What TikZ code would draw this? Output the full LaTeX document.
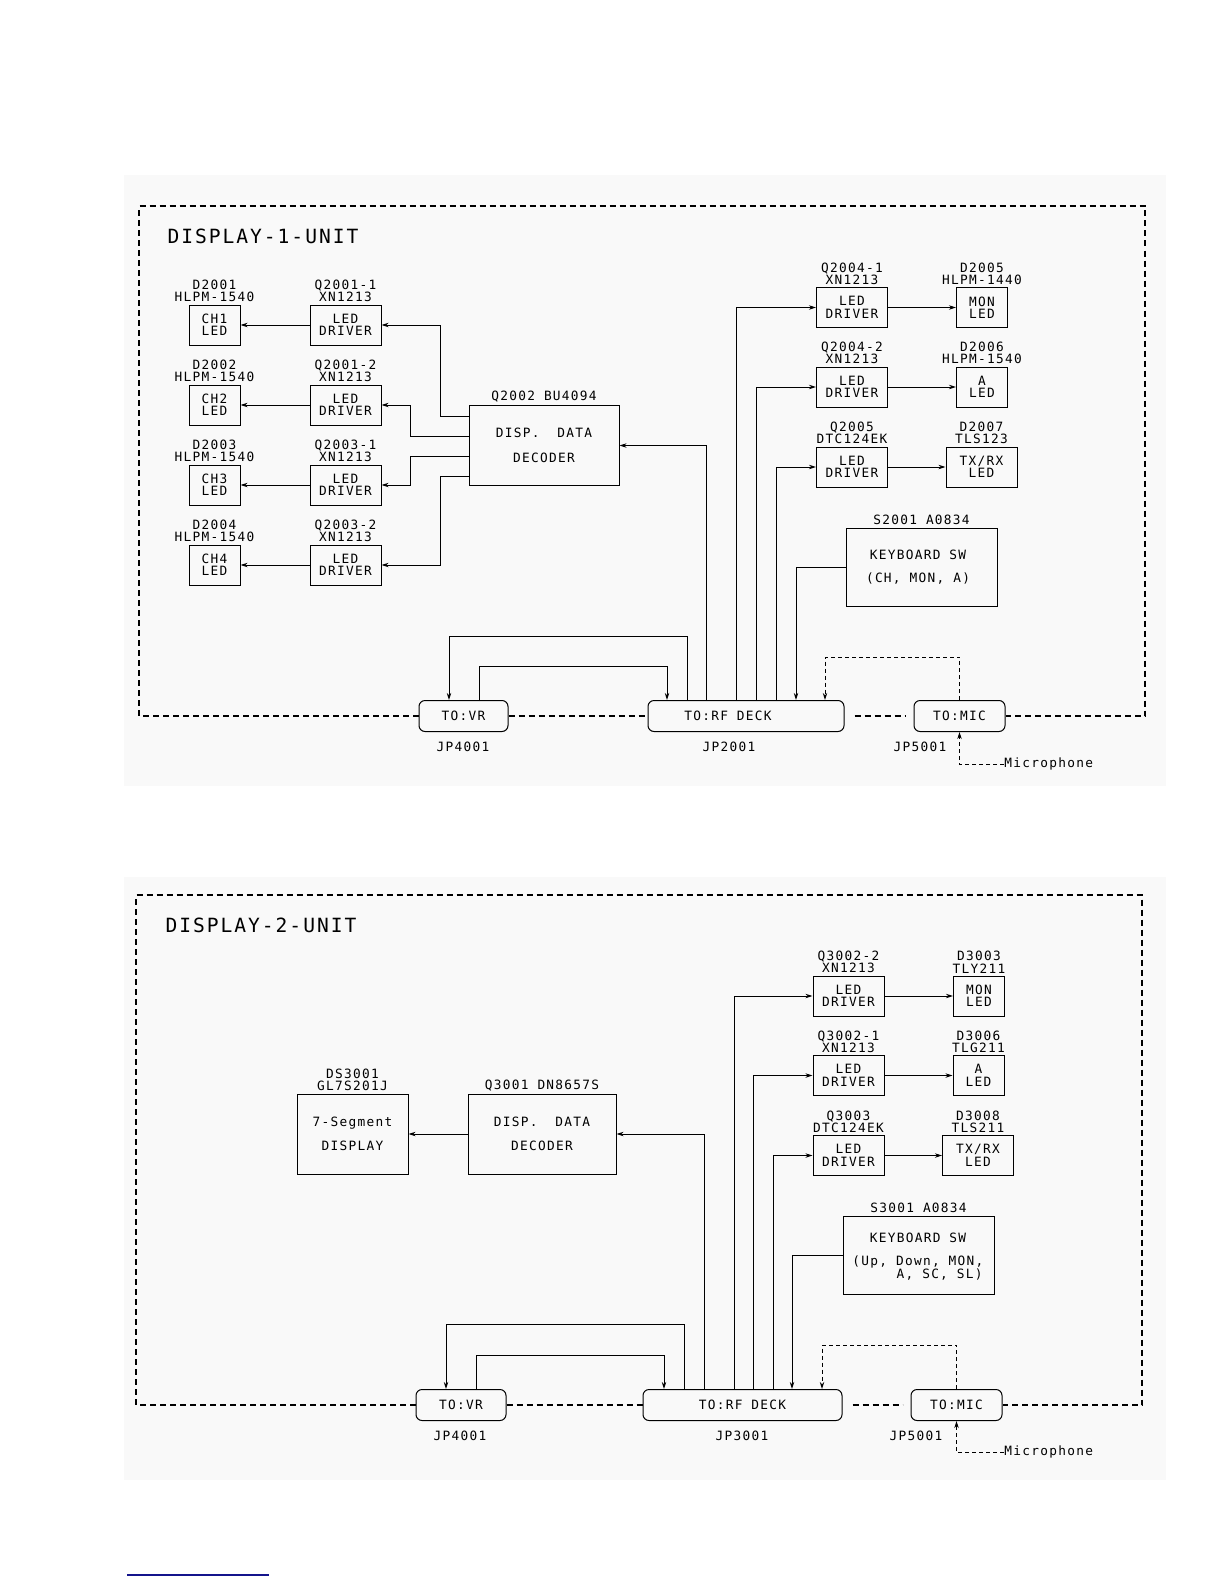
\documentclass[tikz,border=0pt]{standalone}
\usepackage{fontspec}
\usetikzlibrary{arrows.meta}
\newfontfamily\plotfont[LetterSpace=10]{DejaVu Sans Mono}
\newcommand{\txtfont}{\plotfont\fontsize{6.4}{6.2}\selectfont}
\newcommand{\ttlfont}{\plotfont\fontsize{9.8}{11}\selectfont}
\definecolor{scan}{gray}{0.975}
\definecolor{rulecol}{RGB}{20,20,140}
\begin{document}
\begin{tikzpicture}[x=0.5pt,y=-0.5pt,
  >={Stealth[length=3.5pt,width=2.2pt]},
  box/.style={draw,line width=0.5pt,inner sep=0pt,align=center,font=\txtfont,minimum height=20pt},
  led/.style={box,minimum width=25.5pt},
  drv/.style={box,minimum width=35.5pt},
  dec/.style={box,minimum width=75pt,minimum height=40pt},
  kbd/.style={box,minimum width=75.5pt,minimum height=39pt},
  jack/.style={draw,line width=0.5pt,rounded corners=3pt,inner sep=0pt,font=\txtfont,minimum height=15.5pt},
  lab/.style={font=\txtfont,align=center,inner sep=1pt},
  txt/.style={font=\txtfont,inner sep=0pt},
  arr/.style={->,line width=0.5pt},
  dsh/.style={line width=0.5pt,dash pattern=on 2pt off 1.5pt},
  unitframe/.style={line width=0.7pt,dash pattern=on 3pt off 2pt}]
\useasboundingbox (0,0) rectangle (1224,1584);
\fill[scan] (124,175) rectangle (1166,786);
\fill[scan] (124,877) rectangle (1166,1480);

% ---- display 1 unit
\node[txt,font=\ttlfont] (title1) at (263,236) {DISPLAY-1-UNIT};
\foreach \i/\y/\q in {1/325/Q2001-1,2/405/Q2001-2,3/485/Q2003-1,4/565/Q2003-2}{
\node[led,label={[lab]above:{D200\i\\HLPM-1540}}] (ch\i) at (214.5,\y) {CH\i\\LED};
\node[drv,label={[lab]above:{\q\\XN1213}}] (drv\i) at (345.5,\y) {LED\\DRIVER};
\draw[arr] (drv\i) -- (ch\i);};
\node[dec,label={[lab]above:Q2002 BU4094}] (dec1) at (544,445.5) {DISP.\ \ DATA\\[6pt]DECODER};
\draw[arr] (dec1.west |- 0,416) -- (440,416) |- (drv1.east);
\draw[arr] (dec1.west |- 0,436) -- (410,436) |- (drv2.east);
\draw[arr] (dec1.west |- 0,456) -- (410,456) |- (drv3.east);
\draw[arr] (dec1.west |- 0,476) -- (440,476) |- (drv4.east);

\node[drv,label={[lab]above:{Q2004-1\\XN1213}}] (drv41) at (852,307.5) {LED\\DRIVER};
\node[led,label={[lab]above:{D2005\\HLPM-1440}}] (mon1) at (982,307.5) {MON\\LED};
\node[drv,label={[lab]above:{Q2004-2\\XN1213}}] (drv42) at (852,387) {LED\\DRIVER};
\node[led,label={[lab]above:{D2006\\HLPM-1540}}] (aled1) at (982,387) {A\\LED};
\node[drv,label={[lab]above:{Q2005\\DTC124EK}}] (drv5) at (852,467) {LED\\DRIVER};
\node[drv,label={[lab]above:{D2007\\TLS123}}] (txrx1) at (981.5,467) {TX/RX\\LED};
\draw[arr] (drv41) -- (mon1);
\draw[arr] (drv42) -- (aled1);
\draw[arr] (drv5) -- (txrx1);
\node[kbd,label={[lab]above:S2001 A0834}] (kbd1) at (921.5,567) {};
\node[txt] (kbdname1) at (918,555) {KEYBOARD SW};
\node[txt] (kbdkeys1) at (918,579) {(CH, MON, A)};

\node[jack,minimum width=44.5pt] (vr1) at (463.5,716) {TO:VR};
\node[jack,minimum width=98pt] (rf1) at (746,716) {TO:RF DECK\hspace*{18pt}};
\node[jack,minimum width=45.5pt] (mic1) at (959.5,716) {TO:MIC};
\node[txt] (jpvr1) at (463,747) {JP4001};
\node[txt] (jprf1) at (729,747) {JP2001};
\node[txt] (jpmic1) at (920,747) {JP5001};
\node[txt,anchor=west] (micin1) at (1004,764) {Microphone};

\draw[arr] (rf1.north -| 706,0) |- (dec1.east);
\draw[arr] (rf1.north -| 736,0) |- (drv41.west);
\draw[arr] (rf1.north -| 756,0) |- (drv42.west);
\draw[arr] (rf1.north -| 776,0) |- (drv5.west);
\draw[arr] (kbd1.west) -| (rf1.north -| 796,0);
\draw[arr] (rf1.north -| 687,0) -- (687,636) -| (vr1.north -| 449,0);
\draw[arr] (vr1.north -| 479,0) -- (479,666) -| (rf1.north -| 667,0);
\draw[dsh,->] (mic1.north) -- (959.5,657) -| (rf1.north -| 825,0);
\draw[dsh,->] (micin1.west) -| (mic1.south);

\draw[unitframe] (vr1.west) -- (139,716) -- (139,206) -- (1145,206) -- (1145,716) -- (mic1.east);
\draw[unitframe] (vr1.east) -- (rf1.west);
\draw[unitframe] ([xshift=5pt]rf1.east) -- ([xshift=-4pt]mic1.west);

% ---- display 2 unit
\node[txt,font=\ttlfont] (title2) at (261,925) {DISPLAY-2-UNIT};
\node[box,minimum width=55.5pt,minimum height=40pt,label={[lab]above:{DS3001\\GL7S201J}}] (seg) at (352.5,1134) {7-Segment\\[6pt]DISPLAY};
\node[dec,minimum width=74pt,label={[lab]above:Q3001 DN8657S}] (dec2) at (542,1134) {DISP.\ \ DATA\\[6pt]DECODER};
\draw[arr] (dec2) -- (seg);

\node[drv,label={[lab]above:{Q3002-2\\XN1213}}] (drv32) at (848.5,996) {LED\\DRIVER};
\node[led,label={[lab]above:{D3003\\TLY211}}] (mon2) at (979,996) {MON\\LED};
\node[drv,label={[lab]above:{Q3002-1\\XN1213}}] (drv31) at (848.5,1075.5) {LED\\DRIVER};
\node[led,label={[lab]above:{D3006\\TLG211}}] (aled2) at (978.5,1075.5) {A\\LED};
\node[drv,label={[lab]above:{Q3003\\DTC124EK}}] (drv33) at (848.5,1155.5) {LED\\DRIVER};
\node[drv,label={[lab]above:{D3008\\TLS211}}] (txrx2) at (978,1155.5) {TX/RX\\LED};
\draw[arr] (drv32) -- (mon2);
\draw[arr] (drv31) -- (aled2);
\draw[arr] (drv33) -- (txrx2);
\node[kbd,label={[lab]above:S3001 A0834}] (kbd2) at (918.5,1255) {};
\node[txt] (kbdname2) at (918,1238) {KEYBOARD SW};
\node[txt,anchor=west] (kbdkeys2) at (852,1262) {(Up, Down, MON,};
\node[txt,anchor=east] (kbdkeys3) at (983,1275) {A, SC, SL)};

\node[jack,minimum width=45pt] (vr2) at (461,1405) {TO:VR};
\node[jack,minimum width=99.5pt] (rf2) at (742.5,1405) {TO:RF DECK};
\node[jack,minimum width=45.5pt] (mic2) at (956.5,1405) {TO:MIC};
\node[txt] (jpvr2) at (460,1436) {JP4001};
\node[txt] (jprf2) at (742,1436) {JP3001};
\node[txt] (jpmic2) at (916,1436) {JP5001};
\node[txt,anchor=west] (micin2) at (1004,1452) {Microphone};

\draw[arr] (rf2.north -| 704,0) |- (dec2.east);
\draw[arr] (rf2.north -| 734,0) |- (drv32.west);
\draw[arr] (rf2.north -| 753,0) |- (drv31.west);
\draw[arr] (rf2.north -| 773,0) |- (drv33.west);
\draw[arr] (kbd2.west) -| (rf2.north -| 792,0);
\draw[arr] (rf2.north -| 684,0) -- (684,1324) -| (vr2.north -| 446,0);
\draw[arr] (vr2.north -| 476,0) -- (476,1355) -| (rf2.north -| 664,0);
\draw[dsh,->] (mic2.north) -- (956.5,1345) -| (rf2.north -| 822,0);
\draw[dsh,->] (micin2.west) -| (mic2.south);

\draw[unitframe] (vr2.west) -- (136,1405) -- (136,895) -- (1142,895) -- (1142,1405) -- (mic2.east);
\draw[unitframe] (vr2.east) -- (rf2.west);
\draw[unitframe] ([xshift=5pt]rf2.east) -- ([xshift=-4pt]mic2.west);

\draw[rulecol,line width=1pt] (127,1575) -- (269,1575);
\end{tikzpicture}
\end{document}
